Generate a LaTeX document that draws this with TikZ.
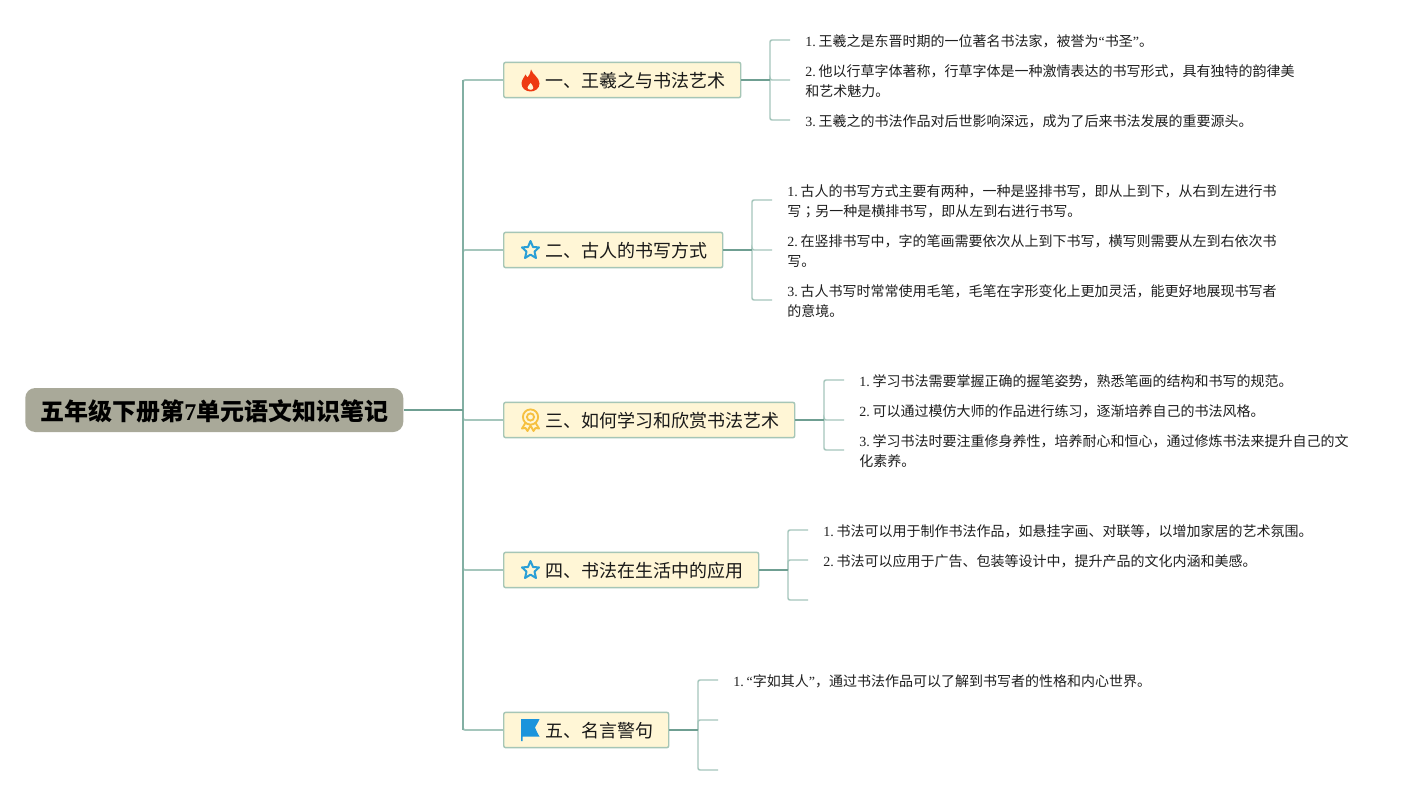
\documentclass[tikz,border=0pt]{standalone}
\usepackage{fontspec}
\setmainfont{Liberation Serif}
\newfontfamily\cjk{Noto Sans CJK SC}
\newfontfamily\cjktc{Noto Sans CJK TC}
\newcommand\lat[1]{{\rmfamily #1}}
\newcommand\num[1]{{\rmfamily #1. }\kern-1.4pt}
\definecolor{rootfill}{HTML}{A9A999}
\definecolor{topicfill}{HTML}{FFF6D6}
\definecolor{topicedge}{HTML}{A6C6B6}
\definecolor{darkline}{HTML}{6F9F92}
\definecolor{midline}{HTML}{82AFA3}
\definecolor{lightline}{HTML}{A5C6BC}
\definecolor{iconblue}{HTML}{2A9FD6}
\definecolor{flagblue}{HTML}{1B94DC}
\definecolor{medal}{HTML}{F6C040}
\definecolor{flame}{HTML}{EE3A12}
\tikzset{
  rootbox/.style={fill=rootfill,rounded corners=7.5pt,inner sep=0pt,minimum height=33pt,font=\cjk\fontsize{18}{22}\selectfont\bfseries,text=black},
  topicbox/.style={draw=topicedge,fill=topicfill,line width=1.1pt,rounded corners=1.5pt,inner xsep=0pt,inner ysep=0pt,minimum height=26.5pt,anchor=west,font=\cjk\fontsize{13.5}{16}\selectfont,text=black!90},
  leaf/.style={anchor=west,inner sep=0pt,align=left,font=\cjk\fontsize{10.5}{15}\selectfont,text=black!88},
  main/.style={draw=darkline,line width=1.5pt},
  trunk/.style={draw=midline,line width=1.3pt},
  branch/.style={draw=lightline,line width=1.3pt,rounded corners=1.5pt},
  sub/.style={draw=lightline,line width=1.1pt,rounded corners=1.5pt},
}
\newcommand\topicbody[2]{\hbox to #1pt{\hspace{31.5pt}\raisebox{0pt}[11.6pt][0pt]{#2}\hfil}}
\begin{document}
\begin{tikzpicture}[x=0.75pt,y=-0.75pt]
\useasboundingbox (0,0) rectangle (1419,795);
\fill[white] (0,0) rectangle (1419,795);

\coordinate (hub) at (463,410);

\node[rootbox,anchor=west,minimum width=283.5pt] (root) at (25,410) {\raisebox{0pt}[16.4pt][0pt]{五年级下册第\lat{7}单元语文知识笔记}};

\node[topicbox] (t1) at (503,80)  {\topicbody{177.75}{一、王羲之与书法艺术}};
\node[topicbox] (t2) at (503,250) {\topicbody{164.25}{二、古人的书写方式}};
\node[topicbox] (t3) at (503,420) {\topicbody{218.25}{三、如何学习和欣赏书法艺术}};
\node[topicbox] (t4) at (503,570) {\topicbody{191.25}{四、书法在生活中的应用}};
\node[topicbox] (t5) at (503,730) {\topicbody{123.75}{五、名言警句}};

\foreach \t in {t1,t2,t3,t4,t5} \draw[branch] (hub) |- (\t.west);
\draw[trunk] (hub|-t1.west) -- (hub|-t5.west);
\draw[main] (root.east) -- (hub);

\node[leaf] (a1) at (805,41) {\num{1}王羲之是东晋时期的一位著名书法家，被誉为\lat{“}书圣\lat{”}。};
\node[leaf] (a2) at (805,81) {\num{2}他以行草字体著称，行草字体是一种激情表达的书写形式，具有独特的韵律美\\和艺术魅力。};
\node[leaf] (a3) at (805,121) {\num{3}王羲之的书法作品对后世影响深远，成为了后来书法发展的重要源头。};
\node[leaf] (b1) at (787,201) {\num{1}古人的书写方式主要有两种，一种是竖排书写，即从上到下，从右到左进行书\\写{\cjktc ；}另一种是横排书写，即从左到右进行书写。};
\node[leaf] (b2) at (787,251) {\num{2}在竖排书写中，字的笔画需要依次从上到下书写，横写则需要从左到右依次书\\写。};
\node[leaf] (b3) at (787,301) {\num{3}古人书写时常常使用毛笔，毛笔在字形变化上更加灵活，能更好地展现书写者\\的意境。};
\node[leaf] (c1) at (859,381) {\num{1}学习书法需要掌握正确的握笔姿势，熟悉笔画的结构和书写的规范。};
\node[leaf] (c2) at (859,411) {\num{2}可以通过模仿大师的作品进行练习，逐渐培养自己的书法风格。};
\node[leaf] (c3) at (859,451) {\num{3}学习书法时要注重修身养性，培养耐心和恒心，通过修炼书法来提升自己的文\\化素养。};
\node[leaf] (d1) at (823,531) {\num{1}书法可以用于制作书法作品，如悬挂字画、对联等，以增加家居的艺术氛围。};
\node[leaf] (d2) at (823,561) {\num{2}书法可以应用于广告、包装等设计中，提升产品的文化内涵和美感。};
\node[leaf] (e1) at (733,681) {\num{1}\lat{“}字如其人\lat{”}，通过书法作品可以了解到书写者的性格和内心世界。};

\coordinate (a1e) at (790,40);  \coordinate (a2e) at (790,80);  \coordinate (a3e) at (790,120);
\coordinate (b1e) at (772,200); \coordinate (b2e) at (772,250); \coordinate (b3e) at (772,300);
\coordinate (c1e) at (844,380); \coordinate (c2e) at (844,420); \coordinate (c3e) at (844,450);
\coordinate (d1e) at (808,530); \coordinate (d2e) at (808,560); \coordinate (d3e) at (808,600);
\coordinate (e1e) at (718,680); \coordinate (e2e) at (718,720); \coordinate (e3e) at (718,770);
\coordinate (bus1) at (770,80);
\coordinate (bus2) at (752,250);
\coordinate (bus3) at (824,420);
\coordinate (bus4) at (788,570);
\coordinate (bus5) at (698,730);

\foreach \b/\p in {bus1/a,bus2/b,bus3/c,bus4/d,bus5/e}{
  \draw[sub] (\b) |- (\p1e);
  \draw[sub] (\b) |- (\p2e);
  \draw[sub] (\b) |- (\p3e);
}
\draw[main] (t1.east) -- (bus1);
\draw[main] (t2.east) -- (bus2);
\draw[main] (t3.east) -- (bus3);
\draw[main] (t4.east) -- (bus4);
\draw[main] (t5.east) -- (bus5);

% icon: flame
\begin{scope}[shift={(530.5,80.5)}]
  \fill[flame] (0.5,-11) .. controls (2,-6) and (9,-3) .. (9,3)
    .. controls (9,8) and (4.5,11) .. (0,11)
    .. controls (-5,11) and (-9,7.5) .. (-9,3)
    .. controls (-9,-1) and (-6,-3) .. (-5,-6)
    .. controls (-4,-4.5) and (-3.5,-3.5) .. (-3,-3)
    .. controls (-1.5,-5) and (0.5,-8) .. (0.5,-11) -- cycle;
  \fill[topicfill] (0.2,2.5) .. controls (1,4.5) and (3.2,5.5) .. (2.8,7.5)
    .. controls (2.5,8.8) and (1.3,9.3) .. (0,9.3)
    .. controls (-1.7,9.3) and (-3,8.3) .. (-3,7)
    .. controls (-3,5.3) and (-1,4.5) .. (0.2,2.5) -- cycle;
\end{scope}

% icon: stars
\foreach \yy in {250,570}{
  \draw[iconblue,line width=1.5pt,line join=round]
    (530.5,\yy-9) -- (533,\yy-3) -- (539,\yy-2.6) -- (534.5,\yy+1.6)
    -- (536,\yy+8) -- (530.5,\yy+4.6) -- (525,\yy+8) -- (526.5,\yy+1.6)
    -- (522,\yy-2.6) -- (528,\yy-3) -- cycle;
}

% icon: medal
\begin{scope}[shift={(530.5,420)}]
  \draw[medal,line width=1.4pt,line join=round,fill=topicfill]
    (-4.5,2) -- (-8.5,8.5) -- (-5,8) -- (-3,11) -- (0,5.5) -- (3,11) -- (5,8) -- (8.5,8.5) -- (4.5,2);
  \draw[medal,line width=1.4pt,fill=topicfill] (0,-3) circle[radius=7.6];
  \draw[medal,line width=1.4pt] (0,-3) circle[radius=3.6];
\end{scope}

% icon: flag
\begin{scope}[shift={(521,730)}]
  \fill[flagblue] (0,-11) -- (18.5,-11) .. controls (17,-7) and (15,-5) .. (14,-2.5)
    .. controls (15,0.5) and (17,4) .. (18.5,6.5) -- (1.5,6.5) -- (1.5,11) -- (0,11) -- cycle;
\end{scope}
\end{tikzpicture}
\end{document}
